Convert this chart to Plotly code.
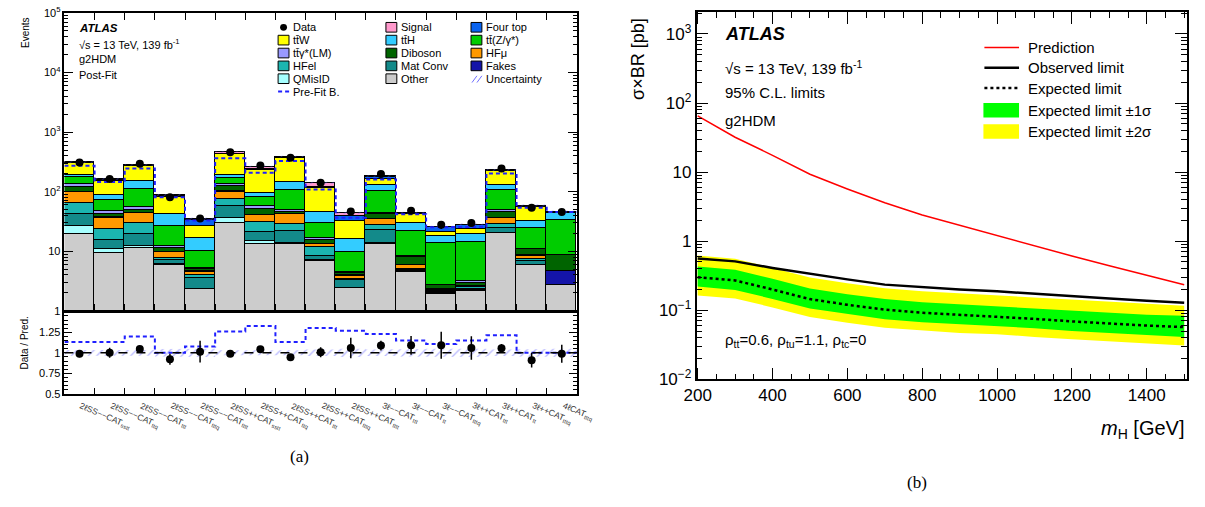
import plotly.graph_objects as go

W, H = 1205, 507

# ---------------- panel (a) data ----------------
categories = [
    "2ℓSS−−CAT<sub>sstt</sub>", "2ℓSS−−CAT<sub>ttq</sub>", "2ℓSS−−CAT<sub>ttt</sub>",
    "2ℓSS−−CAT<sub>tttq</sub>", "2ℓSS−−CAT<sub>tttt</sub>", "2ℓSS++CAT<sub>sstt</sub>",
    "2ℓSS++CAT<sub>ttq</sub>", "2ℓSS++CAT<sub>ttt</sub>", "2ℓSS++CAT<sub>tttq</sub>",
    "2ℓSS++CAT<sub>tttt</sub>", "3ℓ−−CAT<sub>ttt</sub>", "3ℓ−−CAT<sub>tt</sub>",
    "3ℓ−−CAT<sub>tttq</sub>", "3ℓ++CAT<sub>ttt</sub>", "3ℓ++CAT<sub>tt</sub>",
    "3ℓ++CAT<sub>tttq</sub>", "4ℓCAT<sub>tttq</sub>",
]

other   = [19.8, 9.4, 11.3, 6.0, 2.3, 30.5, 13.6, 13.4, 7.0, 2.4, 13.6, 4.6, 1.96, 2.2, 20.5, 5.9, 2.7]
qmisid  = [7.2, 1.6, 1.1, 0.2, 0.05, 6.5, 1.4, 0.7, 0.3, 0.05, 0.4, 0.05, 0.02, 0.02, 0.2, 0.1, 0.0]
matconv = [16.3, 4.6, 7.4, 0.9, 1.3, 20.0, 6.0, 7.9, 1.25, 0.85, 9.2, 0.3, 0.1, 0.15, 4.0, 0.8, 0.02]
hfel    = [21.7, 8.2, 10.7, 0.6, 0.3, 19.0, 10.7, 7.0, 3.15, 0.2, 4.8, 0.1, 0.12, 0.13, 4.3, 0.7, 0.02]
hfmu    = [36.0, 13.2, 13.9, 2.0, 0.6, 25.0, 9.0, 13.0, 1.5, 0.4, 7.0, 0.85, 0.05, 0.05, 7.0, 1.05, 0.02]
fakes   = [0.5, 0.3, 0.3, 0.2, 0.1, 1.0, 0.3, 0.3, 0.1, 0.1, 0.3, 0.1, 0.05, 0.05, 0.3, 0.1, 1.95]
diboson = [20.0, 5.7, 4.3, 1.4, 0.4, 23.0, 11.0, 3.7, 2.3, 0.3, 6.7, 2.1, 0.4, 0.4, 9.7, 2.35, 3.85]
ttgamma = [12.0, 4.5, 6.6, 1.1, 0.15, 9.0, 5.0, 4.0, 1.4, 0.2, 3.0, 0.4, 0.05, 0.15, 3.0, 0.2, 0.05]
ttz     = [42.0, 25.5, 54.4, 13.9, 5.1, 37.0, 24.0, 57.0, 13.5, 5.4, 59.0, 13.3, 11.0, 11.0, 58.0, 13.5, 25.2]
tth     = [19.0, 15.5, 41.0, 16.1, 6.7, 23.0, 16.5, 39.0, 15.5, 6.5, 26.0, 8.0, 4.4, 5.2, 23.0, 8.3, 10.5]
ttw     = [112.0, 66.5, 124.0, 38.5, 9.3, 231.0, 137.0, 229.0, 72.0, 16.1, 37.0, 13.5, 2.9, 4.8, 95.0, 22.6, 0.8]
fourtop = [3.0, 6.0, 4.0, 5.0, 8.0, 15.0, 10.0, 8.0, 3.0, 7.5, 10.0, 0.5, 4.3, 3.6, 5.0, 2.5, 0.7]
signal  = [3.0, 3.0, 3.0, 2.0, 0.7, 25.0, 20.0, 8.0, 20.0, 4.0, 5.0, 0.2, 0.2, 0.3, 2.0, 1.0, 0.2]

data     = [309, 164, 295, 81, 35.5, 460, 276, 370, 142, 46.6, 198, 48, 27.9, 29.7, 245, 53.8, 45.5]
data_err = [13, 10, 9, 6, 4.6, 11, 9.5, 11, 8.5, 5.5, 11, 5, 4.2, 4, 12, 5.3, 5]
prefit   = [273, 145, 246, 81, 33, 365, 208, 327, 109, 36.7, 161, 41.7, 25.2, 25.8, 202, 53.8, 45.5]
unc_frac = [0.035, 0.04, 0.035, 0.045, 0.05, 0.03, 0.035, 0.03, 0.04, 0.05, 0.04, 0.045, 0.05, 0.05, 0.04, 0.045, 0.05]

# stack order bottom -> top, with legend name and colour
components = [
    ("Other", other, "#cccccc"),
    ("QMisID", qmisid, "#a6ffff"),
    ("Mat Conv", matconv, "#138a8a"),
    ("HFel", hfel, "#1bb5b0"),
    ("HFμ", hfmu, "#ff9900"),
    ("Fakes", fakes, "#1414a8"),
    ("Diboson", diboson, "#006400"),
    ("tt̄γ*(LM)", ttgamma, "#9999ff"),
    ("tt̄(Z/γ*)", ttz, "#00cc00"),
    ("tt̄H", tth, "#33ccff"),
    ("tt̄W", ttw, "#ffff00"),
    ("Four top", fourtop, "#0a64f0"),
    ("Signal", signal, "#ff99cc"),
]

# ---------------- panel (b) data ----------------
mass       = [200, 300, 400, 500, 600, 700, 800, 900, 1000, 1100, 1200, 1300, 1400, 1500]
prediction = [65, 32, 17.5, 9.3, 5.7, 3.6, 2.4, 1.70, 1.20, 0.84, 0.61, 0.44, 0.32, 0.234]
observed   = [0.56, 0.51, 0.41, 0.335, 0.28, 0.235, 0.215, 0.200, 0.188, 0.175, 0.160, 0.148, 0.137, 0.128]
expected   = [0.30, 0.27, 0.20, 0.145, 0.12, 0.102, 0.092, 0.086, 0.081, 0.075, 0.069, 0.064, 0.060, 0.057]
exp_p1     = [0.43, 0.385, 0.285, 0.207, 0.171, 0.145, 0.131, 0.122, 0.115, 0.107, 0.098, 0.091, 0.086, 0.083]
exp_m1     = [0.22, 0.197, 0.146, 0.106, 0.088, 0.074, 0.067, 0.063, 0.059, 0.055, 0.050, 0.047, 0.044, 0.041]
exp_p2     = [0.62, 0.555, 0.41, 0.297, 0.246, 0.209, 0.189, 0.176, 0.166, 0.154, 0.141, 0.131, 0.123, 0.116]
exp_m2     = [0.164, 0.148, 0.11, 0.080, 0.066, 0.056, 0.051, 0.047, 0.045, 0.041, 0.038, 0.035, 0.033, 0.031]

FONT = "Liberation Sans, Arial, Helvetica, sans-serif"
SERIF = "Liberation Serif, Times New Roman, serif"


def PX(x):
    return x / W


def PY(y):
    return 1 - y / H


nb = len(categories)
centers = list(range(nb))
edges = [i - 0.5 for i in range(nb + 1)]
total = [sum(c[1][i] for c in components) for i in range(nb)]


def steps(vals):
    xs, ys = [], []
    for i, v in enumerate(vals):
        xs += [i - 0.5, i + 0.5]
        ys += [v, v]
    return xs, ys


fig = go.Figure()

# stacked backgrounds
for name, vals, col in components:
    fig.add_trace(go.Bar(x=centers, y=vals, width=1.0, name=name,
                         marker=dict(color=col, line=dict(color="black", width=1)),
                         xaxis="x", yaxis="y", showlegend=False))

# uncertainty hatch on top of stack
ux, uu = steps([t * (1 + u) for t, u in zip(total, unc_frac)])
lx, ll = steps([t * (1 - u) for t, u in zip(total, unc_frac)])
fig.add_trace(go.Scatter(x=ux + lx[::-1], y=uu + ll[::-1], fill="toself", mode="lines",
                         line=dict(width=0), fillcolor="rgba(0,0,0,0)",
                         fillpattern=dict(shape="/", fgcolor="rgba(90,90,255,0.9)",
                                          bgcolor="rgba(0,0,0,0)", size=5, solidity=0.2),
                         xaxis="x", yaxis="y", showlegend=False, hoverinfo="skip"))

# pre-fit dashed
px_, py_ = steps(prefit)
fig.add_trace(go.Scatter(x=px_, y=py_, mode="lines", line=dict(color="#2020ff", width=2, dash="4px,3px"),
                         xaxis="x", yaxis="y", showlegend=False))

# data
fig.add_trace(go.Scatter(x=centers, y=data, mode="markers",
                         marker=dict(color="black", size=8),
                         error_y=dict(type="data", array=data_err, color="black", thickness=1.5, width=0),
                         xaxis="x", yaxis="y", showlegend=False))

# ratio panel
rux, ruu = steps([1 + u for u in unc_frac])
rlx, rll = steps([1 - u for u in unc_frac])
fig.add_trace(go.Scatter(x=rux + rlx[::-1], y=ruu + rll[::-1], fill="toself", mode="lines",
                         line=dict(width=0), fillcolor="rgba(0,0,0,0)",
                         fillpattern=dict(shape="/", fgcolor="rgba(90,90,255,0.9)",
                                          bgcolor="rgba(0,0,0,0)", size=6, solidity=0.2),
                         xaxis="x2", yaxis="y2", showlegend=False, hoverinfo="skip"))
prx, pry = steps([d / p for d, p in zip(data, prefit)])
fig.add_trace(go.Scatter(x=prx, y=pry, mode="lines", line=dict(color="#2020ff", width=2, dash="4px,3px"),
                         xaxis="x2", yaxis="y2", showlegend=False))
fig.add_trace(go.Scatter(x=centers, y=[d / t for d, t in zip(data, total)], mode="markers",
                         marker=dict(color="black", size=8),
                         error_y=dict(type="data", array=[e / t for e, t in zip(data_err, total)],
                                      color="black", thickness=1.5, width=0),
                         xaxis="x2", yaxis="y2", showlegend=False))

# ---------------- panel (b) traces ----------------
fig.add_trace(go.Scatter(x=mass + mass[::-1], y=exp_p2 + exp_m2[::-1], fill="toself", mode="lines",
                         line=dict(width=0), fillcolor="#ffff00", xaxis="x3", yaxis="y3", showlegend=False))
fig.add_trace(go.Scatter(x=mass + mass[::-1], y=exp_p1 + exp_m1[::-1], fill="toself", mode="lines",
                         line=dict(width=0), fillcolor="#00ff00", xaxis="x3", yaxis="y3", showlegend=False))
fig.add_trace(go.Scatter(x=mass, y=expected, mode="lines", line=dict(color="black", width=2.5, dash="dot"),
                         xaxis="x3", yaxis="y3", showlegend=False))
fig.add_trace(go.Scatter(x=mass, y=observed, mode="lines", line=dict(color="black", width=2.5),
                         xaxis="x3", yaxis="y3", showlegend=False))
fig.add_trace(go.Scatter(x=mass, y=prediction, mode="lines", line=dict(color="#ff0000", width=1.5),
                         xaxis="x3", yaxis="y3", showlegend=False))

# ---------------- axes ----------------
def logminor(lo, hi):
    return [m * 10 ** k for k in range(lo, hi) for m in range(2, 10)]


axline = dict(showline=True, linecolor="black", linewidth=1.5, showgrid=False, zeroline=False,
              ticklabeloverflow="allow")
xa_dom = [PX(52), PX(570)]

layout = dict(
    width=W, height=H, margin=dict(l=0, r=0, t=0, b=0),
    paper_bgcolor="white", plot_bgcolor="white",
    barmode="stack", bargap=0,
    font=dict(family=FONT, color="black"),
    xaxis=dict(domain=xa_dom, range=[-0.5, nb - 0.5], anchor="y", tickvals=edges,
               ticks="inside", ticklen=7, tickcolor="black", showticklabels=False,
               mirror="allticks", **axline),
    yaxis=dict(domain=[PY(314), PY(5)], type="log", range=[0, 5.003], anchor="x",
               tickvals=[1, 10, 100, 1e3, 1e4, 1e5],
               ticktext=["1", "10", "10<sup>2</sup>", "10<sup>3</sup>", "10<sup>4</sup>", "10<sup>5</sup>"],
               ticks="inside", ticklen=9, tickcolor="black", mirror="allticks",
               tickfont=dict(size=11),
               minor=dict(tickvals=logminor(0, 5), ticks="inside", ticklen=4, tickcolor="black"),
               **axline),
    xaxis2=dict(domain=xa_dom, range=[-0.5, nb - 0.5], anchor="y2", tickvals=edges,
                ticks="inside", ticklen=6, tickcolor="black", showticklabels=False,
                mirror=True, **axline),
    yaxis2=dict(domain=[PY(400), PY(315)], range=[0.5, 1.5], anchor="x2",
                tickvals=[0.5, 0.75, 1, 1.25], ticktext=["0.5", "0.75", "1", "1.25"],
                ticks="inside", ticklen=8, tickcolor="black", mirror="allticks",
                tickfont=dict(size=11),
                minor=dict(tickvals=[0.5 + 0.05 * i for i in range(1, 20)], ticks="inside",
                           ticklen=4, tickcolor="black"),
                **axline),
    xaxis3=dict(domain=[PX(691), PX(1187)], range=[197, 1508], anchor="y3",
                tickvals=[200, 400, 600, 800, 1000, 1200, 1400],
                ticks="inside", ticklen=12, tickcolor="black", mirror="allticks",
                tickfont=dict(size=17),
                minor=dict(dtick=50, ticks="inside", ticklen=6, tickcolor="black"),
                **axline),
    yaxis3=dict(domain=[PY(385), PY(4)], type="log", range=[-2, 3.32], anchor="x3",
                tickvals=[0.01, 0.1, 1, 10, 100, 1000],
                ticktext=["10<sup>−2</sup>", "10<sup>−1</sup>", "1", "10", "10<sup>2</sup>", "10<sup>3</sup>"],
                ticks="inside", ticklen=12, tickcolor="black", mirror="allticks",
                tickfont=dict(size=17),
                minor=dict(tickvals=logminor(-2, 4), ticks="inside", ticklen=6, tickcolor="black"),
                **axline),
)
fig.update_layout(**layout)

ann = []
shapes = []


def text(x, y, s, size, xanchor="left", yanchor="middle", angle=0, family=FONT, color="black"):
    ann.append(dict(x=PX(x), y=PY(y), xref="paper", yref="paper", text=s, showarrow=False,
                    xanchor=xanchor, yanchor=yanchor, textangle=angle,
                    font=dict(size=size, family=family, color=color)))


# rotated category labels under the ratio panel (start at each bin centre)
for i, lab in enumerate(categories):
    ann.append(dict(x=i - 0.12, xref="x2", y=PY(404), yref="paper", text=lab, showarrow=False,
                    xanchor="left", yanchor="top", textangle=23,
                    font=dict(size=8.5, family=FONT, color="#333333")))

# panel (a) texts
text(12, 25, "Events", 10, xanchor="center", angle=-90)
text(12, 347, "Data / Pred.", 10, xanchor="center", angle=-90)
text(65, 21, "<b><i>ATLAS</i></b>", 11.5)
text(65, 37, "√s = 13 TeV, 139 fb<sup>-1</sup>", 11)
text(65, 53, "g2HDM", 11)
text(65, 69, "Post-Fit", 11)
text(290, 465, "(a)", 17, xanchor="center", family=SERIF)

# ratio line at 1
shapes.append(dict(type="line", xref="x2 domain", yref="y2", x0=0, x1=1, y0=1, y1=1,
                   line=dict(color="black", width=1.5, dash="dash")))

# panel (a) legend (3 columns)
cmap = {n: c for n, v, c in components}
cols_x = [268, 377, 463]
rows_y = [20, 33.3, 46.7, 60, 73.3, 86.7]
legend_a = [
    ["Data", "Signal", "Four top"],
    ["tt̄W", "tt̄H", "tt̄(Z/γ*)"],
    ["tt̄γ*(LM)", "Diboson", "HFμ"],
    ["HFel", "Mat Conv", "Fakes"],
    ["QMisID", "Other", "Uncertainty"],
    ["Pre-Fit B."],
]
for r, row in enumerate(legend_a):
    for c, name in enumerate(row):
        x0 = cols_x[c]
        yc = rows_y[r]
        if name == "Data":
            shapes.append(dict(type="circle", xref="paper", yref="paper",
                               x0=PX(x0 + 2), x1=PX(x0 + 9), y0=PY(yc + 3.5), y1=PY(yc - 3.5),
                               fillcolor="black", line=dict(color="black", width=0)))
        elif name == "Uncertainty":
            for dx in (0, 5):
                shapes.append(dict(type="line", xref="paper", yref="paper",
                                   x0=PX(x0 + 1 + dx), x1=PX(x0 + 6 + dx), y0=PY(yc + 4), y1=PY(yc - 3),
                                   line=dict(color="#7070ff", width=1)))
        elif name == "Pre-Fit B.":
            shapes.append(dict(type="line", xref="paper", yref="paper",
                               x0=PX(x0), x1=PX(x0 + 12), y0=PY(yc), y1=PY(yc),
                               line=dict(color="#2020ff", width=2, dash="4px,3px")))
        else:
            shapes.append(dict(type="rect", xref="paper", yref="paper",
                               x0=PX(x0), x1=PX(x0 + 11), y0=PY(yc + 5), y1=PY(yc - 5),
                               fillcolor=cmap[name], line=dict(color="black", width=1)))
        text(x0 + 13, yc, name, 11)

# panel (b) texts
text(632, 8, "σ×BR [pb]", 18, xanchor="center", yanchor="top", angle=-90)
text(1187, 437, "<i>m</i><sub>H</sub> [GeV]", 20, xanchor="right")
text(718, 27, "<b><i>ATLAS</i></b>", 18)
text(718, 62, "√s = 13 TeV, 139 fb<sup>-1</sup>", 15)
text(718, 88, "95% C.L. limits", 15)
text(718, 117, "g2HDM", 15)
text(718, 345, "ρ<sub>tt</sub>=0.6, ρ<sub>tu</sub>=1.1, ρ<sub>tc</sub>=0", 15)
text(914, 492, "(b)", 17, xanchor="center", family=SERIF)

legend_b = [
    ("Prediction", "line", "#ff0000", 1.5, "solid"),
    ("Observed limit", "line", "black", 2.5, "solid"),
    ("Expected limit", "line", "black", 2.5, "dot"),
    ("Expected limit ±1σ", "box", "#00ff00", 0, None),
    ("Expected limit ±2σ", "box", "#ffff00", 0, None),
]
rows_b = [41, 62, 83, 106, 128]
for (name, kind, col, lw, dash), yc in zip(legend_b, rows_b):
    if kind == "line":
        shapes.append(dict(type="line", xref="paper", yref="paper", x0=PX(982), x1=PX(1017),
                           y0=PY(yc), y1=PY(yc), line=dict(color=col, width=lw, dash=dash)))
    else:
        shapes.append(dict(type="rect", xref="paper", yref="paper", x0=PX(981), x1=PX(1017),
                           y0=PY(yc + 7.5), y1=PY(yc - 7.5), fillcolor=col, line=dict(width=0)))
    text(1024, yc, name, 15)

fig.update_layout(annotations=ann, shapes=shapes)
fig.write_html("out.html")
